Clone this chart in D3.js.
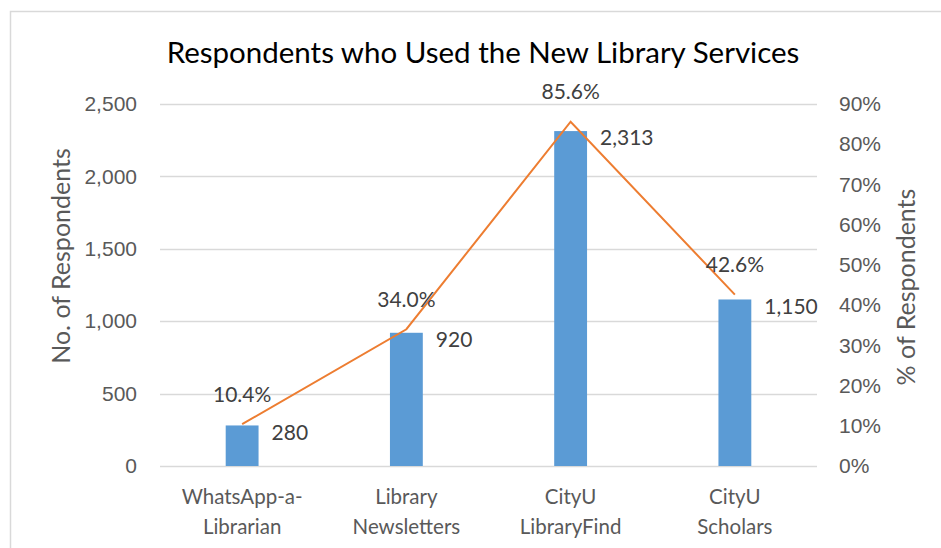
<!DOCTYPE html>
<html>
<head>
<meta charset="utf-8">
<script src="https://cdn.jsdelivr.net/npm/d3@7"></script>
<style>
  body { margin: 0; background: #fff; }
  svg { display: block; font-family: Lato, "Open Sans", sans-serif; }
</style>
</head>
<body>
<svg id="chart" width="941" height="548"></svg>
<script>
const categories = [["WhatsApp-a-", "Librarian"], ["Library", "Newsletters"], ["CityU", "LibraryFind"], ["CityU", "Scholars"]];
const counts = [280, 920, 2313, 1150];
const percents = [10.4, 34.0, 85.6, 42.6];
const countTicks = [0, 500, 1000, 1500, 2000, 2500];
const percentTicks = [0, 10, 20, 30, 40, 50, 60, 70, 80, 90];

const svg = d3.select("#chart");
const margin = { top: 104, right: 124, bottom: 82, left: 160 };
const width = 941 - margin.left - margin.right;
const height = 548 - margin.top - margin.bottom;

// chart frame
svg.append("path")
  .attr("d", "M10.5,548 V11.5 H941")
  .attr("fill", "none")
  .attr("stroke", "#d9d9d9")
  .attr("stroke-width", 1.5);

svg.append("text")
  .attr("x", 483)
  .attr("y", 63)
  .attr("text-anchor", "middle")
  .style("font-size", "29.5px")
  .style("fill", "#000")
  .text("Respondents who Used the New Library Services");

const g = svg.append("g").attr("transform", `translate(${margin.left},${margin.top})`);

const x = d3.scaleBand().domain(d3.range(categories.length)).range([0, width]).paddingInner(0.8).paddingOuter(0.4);
const y = d3.scaleLinear().domain([0, 2500]).range([height, 0]);
const y2 = d3.scaleLinear().domain([0, 90]).range([height, 0]);

// gridlines
g.selectAll(".grid")
  .data(countTicks)
  .enter()
  .append("line")
  .attr("x1", 0)
  .attr("x2", width)
  .attr("y1", (d) => Math.round(y(d)) + 0.5)
  .attr("y2", (d) => Math.round(y(d)) + 0.5)
  .attr("stroke", "#d9d9d9")
  .attr("stroke-width", 1.5);

// left axis
const yAxis = g.append("g")
  .call(d3.axisLeft(y).tickValues(countTicks).tickFormat(d3.format(",")).tickSize(0).tickPadding(23));
yAxis.select(".domain").remove();
yAxis.selectAll("text").style("font-size", "21px").style("fill", "#595959").attr("font-family", null);

// right axis
const y2Axis = g.append("g")
  .attr("transform", `translate(${width},0)`)
  .call(d3.axisRight(y2).tickValues(percentTicks).tickFormat((d) => d + "%").tickSize(0).tickPadding(22));
y2Axis.select(".domain").remove();
y2Axis.selectAll("text").style("font-size", "21px").style("fill", "#595959").attr("font-family", null);

// axis titles
svg.append("text")
  .attr("transform", "translate(70,256) rotate(-90)")
  .attr("text-anchor", "middle")
  .style("font-size", "25px")
  .style("fill", "#595959")
  .text("No. of Respondents");

svg.append("text")
  .attr("transform", "translate(915,287) rotate(-90)")
  .attr("text-anchor", "middle")
  .style("font-size", "25px")
  .style("fill", "#595959")
  .text("% of Respondents");

// category labels
const cat = g.selectAll(".cat")
  .data(categories)
  .enter()
  .append("text")
  .attr("text-anchor", "middle")
  .attr("x", (d, i) => x(i) + x.bandwidth() / 2)
  .attr("y", height + 38)
  .style("font-size", "20.5px")
  .style("fill", "#595959");
cat.append("tspan").attr("x", (d, i) => x(i) + x.bandwidth() / 2).text((d) => d[0]);
cat.append("tspan").attr("x", (d, i) => x(i) + x.bandwidth() / 2).attr("dy", 30).text((d) => d[1]);

// bars
g.selectAll(".bar")
  .data(counts)
  .enter()
  .append("rect")
  .attr("x", (d, i) => x(i))
  .attr("width", x.bandwidth())
  .attr("y", (d) => y(d))
  .attr("height", (d) => height - y(d))
  .attr("fill", "#5b9bd5");

// percent line
const line = d3.line()
  .x((d, i) => x(i) + x.bandwidth() / 2)
  .y((d) => y2(d));
g.append("path")
  .datum(percents)
  .attr("d", line)
  .attr("fill", "none")
  .attr("stroke", "#ed7d31")
  .attr("stroke-width", 2);

// value labels
g.selectAll(".countLabel")
  .data(counts)
  .enter()
  .append("text")
  .attr("x", (d, i) => x(i) + x.bandwidth() + 13)
  .attr("y", (d) => y(d) + 7)
  .attr("dy", "0.35em")
  .style("font-size", "21px")
  .style("fill", "#404040")
  .text((d) => d3.format(",")(d));

g.selectAll(".pctLabel")
  .data(percents)
  .enter()
  .append("text")
  .attr("text-anchor", "middle")
  .attr("x", (d, i) => x(i) + x.bandwidth() / 2)
  .attr("y", (d) => y2(d) - 30)
  .attr("dy", "0.35em")
  .style("font-size", "21px")
  .style("fill", "#404040")
  .text((d) => d.toFixed(1) + "%");
</script>
</body>
</html>
